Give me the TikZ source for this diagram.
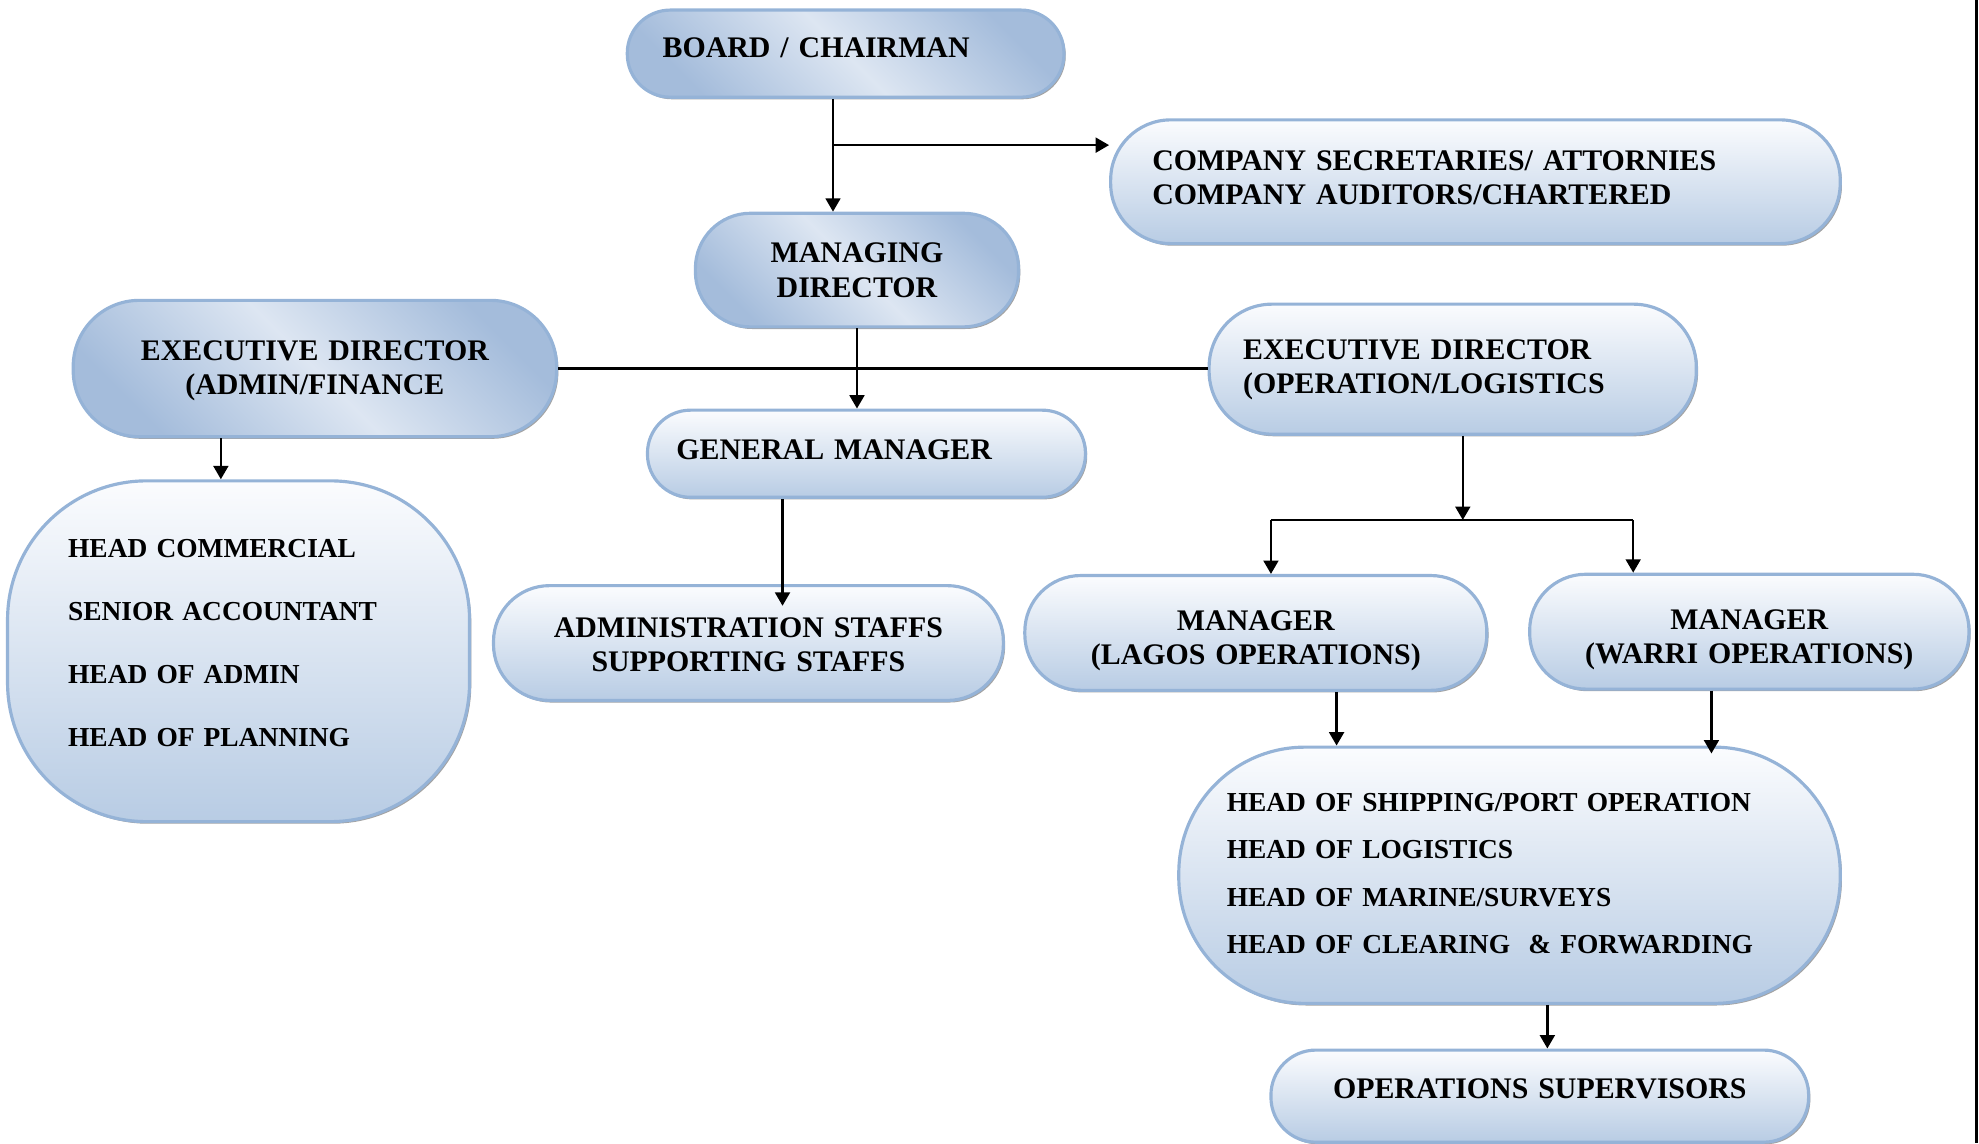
\documentclass[tikz,border=0pt]{standalone}
\usepackage{fontspec}
\setmainfont{Liberation Serif}
\usetikzlibrary{arrows.meta,shadows}

\definecolor{boxline}{HTML}{95B3D7}
\definecolor{boxdark}{HTML}{A4BCDB}
\definecolor{boxlow}{HTML}{B8CCE4}
\definecolor{boxlight}{HTML}{DDE6F2}
\definecolor{boxtop}{HTML}{FBFCFE}

\tikzset{
  box/.style={draw=boxline, line width=0.9pt, inner sep=0pt, align=center,
    font=\fontsize{8.5}{9.7}\selectfont\bfseries,
    drop shadow={shadow xshift=0.5pt, shadow yshift=-0.6pt, fill=black!60, opacity=0.6}},
  vshade/.style={top color=boxtop, bottom color=boxlow},
  dshade/.style={left color=boxdark, right color=boxdark, middle color=boxlight, shading angle=-45},
  listbox/.style={font=\fontsize{7.8}{#1}\selectfont\bfseries, align=left},
  textdrop/.style={text height=6pt, text depth=#1},
  link/.style={line width=0.7pt},
  arr/.style={link, -{Triangle[length=3.8pt, width=4.2pt]}},
}

\begin{document}
\begin{tikzpicture}[x=0.01262cm, y=-0.01262cm]
  \useasboundingbox (0,0) rectangle (1568,906);

  % top of the chart
  \node [box, dshade, textdrop=3.97pt, minimum width=4.366cm, minimum height=0.871cm, rounded corners=0.43cm,
         text width=3.66cm, inner xsep=0.353cm, align=left](board) at (670,42.5) {BOARD / CHAIRMAN};
  \node [box, vshade, textdrop=12.27pt, minimum width=7.294cm, minimum height=1.237cm, rounded corners=0.6cm,
         text width=6.461cm, inner xsep=0.416cm, align=left](company) at (1169,144)
         {COMPANY SECRETARIES/ ATTORNIES\\COMPANY AUDITORS/CHARTERED};
  \node [box, dshade, textdrop=10.07pt, minimum width=3.231cm, minimum height=1.136cm, rounded corners=0.55cm,
         text width=3.231cm](md) at (679,214)
         {MANAGING\\DIRECTOR};

  % directors and general manager
  \node [box, dshade, textdrop=10.8pt, minimum width=4.833cm, minimum height=1.363cm, rounded corners=0.66cm,
         text width=4.833cm](eda) at (249.5,292)
         {EXECUTIVE DIRECTOR\\(ADMIN/FINANCE};
  \node [box, vshade, textdrop=11.47pt, minimum width=4.871cm, minimum height=1.3cm, rounded corners=0.63cm,
         text width=4.189cm, inner xsep=0.341cm, align=left](edo) at (1151,292.5)
         {EXECUTIVE DIRECTOR\\(OPERATION/LOGISTICS};
  \node [box, vshade, textdrop=2.57pt, minimum width=4.379cm, minimum height=0.871cm, rounded corners=0.43cm,
         text width=3.799cm, inner xsep=0.29cm, align=left](gm) at (686.5,359.5) {GENERAL MANAGER};

  % lower level
  \node [box, vshade, listbox=17.96pt, textdrop=59.32pt, minimum width=4.619cm, minimum height=3.407cm, rounded corners=1.39cm,
         text width=3.407cm, inner xsep=0.606cm](adminlist) at (189,516)
         {HEAD COMMERCIAL\\SENIOR ACCOUNTANT\\HEAD OF ADMIN\\HEAD OF PLANNING};
  \node [box, vshade, textdrop=9.07pt, minimum width=5.098cm, minimum height=1.148cm, rounded corners=0.56cm,
         text width=5.098cm](staff) at (593,509.5)
         {ADMINISTRATION STAFFS\\SUPPORTING STAFFS};
  \node [box, vshade, textdrop=7.27pt, minimum width=4.619cm, minimum height=1.148cm, rounded corners=0.56cm,
         text width=4.619cm](lagos) at (995,501.5)
         {MANAGER\\(LAGOS OPERATIONS)};
  \node [box, vshade, textdrop=7.27pt, minimum width=4.392cm, minimum height=1.148cm, rounded corners=0.56cm,
         text width=4.392cm](warri) at (1386,500.5)
         {MANAGER\\(WARRI OPERATIONS)};
  \node [box, vshade, listbox=13.47pt, textdrop=42.25pt, minimum width=6.613cm, minimum height=2.562cm, rounded corners=1.26cm,
         text width=5.653cm, inner xsep=0.48cm](oplist) at (1196,693.5)
         {HEAD OF SHIPPING/PORT OPERATION\\HEAD OF LOGISTICS\\HEAD OF MARINE/SURVEYS\\HEAD OF CLEARING~ \& FORWARDING};
  \node [box, vshade, textdrop=4.77pt, minimum width=5.376cm, minimum height=0.921cm, rounded corners=0.45cm,
         text width=5.376cm](sup) at (1220,868.5)
         {OPERATIONS SUPERVISORS};

  % connector joints
  \coordinate (bj) at (660,115);
  \coordinate (ea) at (175,0);
  \coordinate (gs) at (620,480);
  \coordinate (ej) at (1159,412);
  \coordinate (lj) at (1007,412);
  \coordinate (wj) at (1294,412);
  \coordinate (lo) at (1059,0);
  \coordinate (wo) at (1356,597);
  \coordinate (so) at (1226,0);

  \draw[arr] (board.south -| bj) -- (md.north -| bj);
  \draw[arr] (bj) -- (company.west |- bj);
  \draw[arr] (md.south) -- (md.south |- gm.north);
  \draw[link] (eda.east) -- (eda.east -| edo.west);
  \draw[arr] (eda.south -| ea) -- (adminlist.north -| ea);
  \draw[arr] (gm.south -| gs) -- (gs);
  \draw[arr] (edo.south -| ej) -- (ej);
  \draw[link] (lj) -- (wj);
  \draw[arr] (lj) -- (lagos.north -| lj);
  \draw[arr] (wj) -- (warri.north -| wj);
  \draw[arr] (lagos.south -| lo) -- (oplist.north -| lo);
  \draw[arr] (warri.south -| wo) -- (wo);
  \draw[arr] (oplist.south -| so) -- (sup.north -| so);

  % page edge
  \draw[line width=0.8pt] (1566,0) -- (1566,906);
\end{tikzpicture}
\end{document}
